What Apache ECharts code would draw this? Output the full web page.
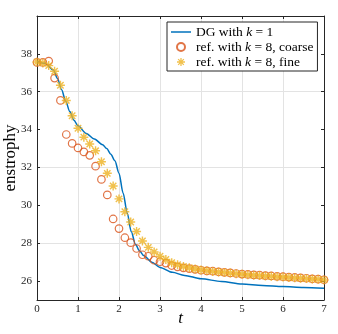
<!DOCTYPE html>
<html>
<head>
<meta charset="utf-8">
<script src="https://cdn.jsdelivr.net/npm/echarts@6/dist/echarts.min.js"></script>
<style>
  * { margin: 0; padding: 0; }
  body { background: #fff; }
  #chart { width: 338px; height: 334px; }
</style>
</head>
<body>
<div id="chart"></div>
<script>
// DG with k = 1 (t, enstrophy)
const dgT = [0, 0.2, 0.4, 0.5, 0.6, 0.7, 0.8, 0.9, 1.0, 1.2, 1.4, 1.6, 1.7, 1.8, 1.9, 2.0, 2.1, 2.2, 2.3, 2.4, 2.5, 2.6, 2.8, 3.0, 3.3, 3.6, 4.0, 4.5, 5.0, 5.5, 6.0, 6.5, 7.0];
const dgVal = [37.6, 37.5, 37.15, 36.7, 36.1, 35.5, 34.95, 34.5, 34.2, 33.8, 33.5, 33.2, 33.0, 32.7, 32.35, 31.7, 30.65, 29.6, 28.6, 27.95, 27.6, 27.35, 27.0, 26.72, 26.46, 26.3, 26.12, 25.98, 25.84, 25.77, 25.71, 25.66, 25.62];

// reference k = 8, sampled every 1/7
const refT = [];
for (let k = 0; k < 50; k++) refT.push(k / 7);
const coarseVal = [37.55, 37.55, 37.62, 36.72, 35.54, 33.74, 33.27, 33.03, 32.82, 32.64,
  32.07, 31.37, 30.55, 29.28, 28.77, 28.29, 28.03, 27.72, 27.39, 27.31,
  27.10, 27.02, 26.95, 26.82, 26.75, 26.70, 26.66, 26.62, 26.57, 26.54,
  26.52, 26.49, 26.46, 26.43, 26.40, 26.37, 26.35, 26.33, 26.31, 26.29,
  26.27, 26.25, 26.23, 26.21, 26.19, 26.17, 26.15, 26.12, 26.10, 26.07];
const fineVal = [37.57, 37.52, 37.38, 37.08, 36.34, 35.54, 34.73, 34.07, 33.60, 33.24,
  32.88, 32.30, 31.69, 31.02, 30.34, 29.66, 29.12, 28.62, 28.12, 27.78,
  27.54, 27.31, 27.14, 26.97, 26.86, 26.77, 26.70, 26.64, 26.59, 26.55,
  26.51, 26.48, 26.45, 26.42, 26.39, 26.36, 26.33, 26.31, 26.29, 26.27,
  26.25, 26.23, 26.21, 26.19, 26.17, 26.15, 26.13, 26.11, 26.09, 26.06];

const xTicks = [0, 1, 2, 3, 4, 5, 6, 7];
const yTicks = [26, 28, 30, 32, 34, 36, 38];
const seriesNames = ['DG with k = 1', 'ref. with k = 8, coarse', 'ref. with k = 8, fine'];

const zip = (a, b) => a.map((v, i) => [v, b[i]]);
const serif = 'Liberation Serif';
const axisCol = '#262626';
const gridCol = '#e3e3e3';
const blue = '#0072BD', orange = '#D95319', yellow = '#EDB120';

// MATLAB style asterisk
const starPath = 'path://M-5,-0.8L5,-0.8L5,0.8L-5,0.8Z M-0.8,-5L0.8,-5L0.8,5L-0.8,5Z ' +
  'M-2.97,-4.1L4.1,2.97L2.97,4.1L-4.1,-2.97Z M2.97,-4.1L4.1,-2.97L-2.97,4.1L-4.1,2.97Z';

const chart = echarts.init(document.getElementById('chart'));

const yLabelFmt = (v) => (yTicks.indexOf(v) >= 0 ? String(v) : '');

chart.setOption({
  animation: false,
  grid: { left: 37, right: 14, top: 16, bottom: 34, outerBoundsMode: 'none', containLabel: false },
  legend: {
    orient: 'vertical',
    left: 167, top: 22,
    backgroundColor: '#fff',
    borderColor: axisCol, borderWidth: 1,
    padding: [3, 4, 2, 4],
    itemWidth: 20, itemHeight: 8, itemGap: 1,
    data: [
      { name: seriesNames[0], icon: 'path://M0,0L20,0L20,1.5L0,1.5Z', itemStyle: { color: blue } },
      { name: seriesNames[1] },
      { name: seriesNames[2] }
    ],
    formatter: (name) => name.replace('k =', '{i|k} ='),
    textStyle: {
      fontFamily: serif, fontSize: 13.5, color: '#000', lineHeight: 14,
      rich: { i: { fontFamily: serif, fontSize: 13.5, fontStyle: 'italic', color: '#000', lineHeight: 14 } }
    }
  },
  xAxis: [{
    type: 'value', min: 0, max: 7, interval: 1,
    name: 't', nameLocation: 'middle', nameGap: 10, nameMoveOverlap: false,
    nameTextStyle: { fontFamily: serif, fontSize: 17, fontStyle: 'italic', color: '#000' },
    axisLine: { lineStyle: { color: axisCol, width: 1 } },
    axisTick: { inside: true, length: 3, lineStyle: { color: axisCol } },
    axisLabel: { fontFamily: serif, fontSize: 11, color: axisCol, margin: 4 },
    splitLine: { show: true, lineStyle: { color: gridCol, width: 1 } }
  }, {
    type: 'value', min: 0, max: 7, interval: 1, position: 'top',
    axisLine: { show: true, onZero: false, lineStyle: { color: axisCol, width: 1 } },
    axisTick: { inside: true, length: 3, lineStyle: { color: axisCol } },
    axisLabel: { show: false },
    splitLine: { show: false }
  }],
  yAxis: [{
    type: 'value', min: 25, max: 40, interval: 1,
    name: 'enstrophy', nameLocation: 'middle', nameGap: 18, nameMoveOverlap: false,
    nameTextStyle: { fontFamily: serif, fontSize: 17, color: '#000' },
    axisLine: { show: true, lineStyle: { color: axisCol, width: 1 } },
    axisTick: { show: true, inside: true, length: 3, customValues: yTicks, lineStyle: { color: axisCol } },
    axisLabel: { fontFamily: serif, fontSize: 11, color: axisCol, margin: 5, customValues: yTicks, formatter: yLabelFmt },
    splitLine: { show: true, lineStyle: { color: ['rgba(0,0,0,0)', gridCol], width: 1 } }
  }, {
    type: 'value', min: 25, max: 40, interval: 1, position: 'right',
    axisLine: { show: true, onZero: false, lineStyle: { color: axisCol, width: 1 } },
    axisTick: { show: true, inside: true, length: 3, customValues: yTicks, lineStyle: { color: axisCol } },
    axisLabel: { show: false },
    splitLine: { show: false }
  }],
  series: [{
    name: seriesNames[0],
    type: 'line',
    data: zip(dgT, dgVal),
    showSymbol: false, symbol: 'none',
    smooth: 0.3, smoothMonotone: 'x',
    lineStyle: { color: blue, width: 1.5 },
    itemStyle: { color: blue },
    z: 2
  }, {
    name: seriesNames[1],
    type: 'scatter',
    data: zip(refT, coarseVal),
    symbol: 'circle', symbolSize: 7.5,
    itemStyle: { color: 'rgba(0,0,0,0)', borderColor: orange, borderWidth: 1.2 },
    z: 3
  }, {
    name: seriesNames[2],
    type: 'scatter',
    data: zip(refT, fineVal),
    symbol: starPath, symbolSize: 9,
    itemStyle: { color: yellow },
    z: 4
  }]
});
</script>
</body>
</html>
